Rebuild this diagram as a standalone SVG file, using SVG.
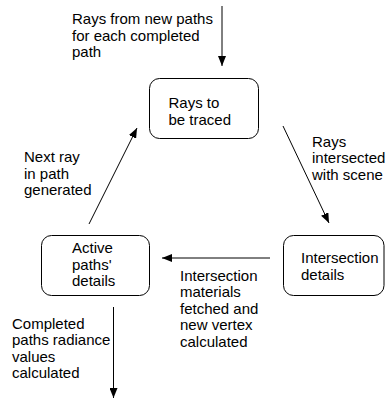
<svg xmlns="http://www.w3.org/2000/svg" width="385" height="400" viewBox="0 0 385 400">
  <style>
    .box { fill: #ffffff; stroke: #000000; stroke-width: 1; }
    .lbl { font-family: "Liberation Sans", Arial, sans-serif; font-size: 15px; fill: #000000; }
    .edge { stroke: #000000; stroke-width: 1; fill: none; marker-end: url(#arrow); }
  </style>
  <defs>
    <marker id="arrow" viewBox="0 0 10 8" refX="10" refY="4" markerWidth="10" markerHeight="8" markerUnits="userSpaceOnUse" orient="auto">
      <path d="M0,0 L10,4 L0,8 Z" fill="#000000"/>
    </marker>
  </defs>
  <rect width="385" height="400" fill="#ffffff"/>

  <g id="connectors">
    <line class="edge" x1="222" y1="6" x2="222" y2="66"/>
    <line class="edge" x1="283" y1="126" x2="329" y2="223"/>
    <line class="edge" x1="270" y1="258" x2="162" y2="258"/>
    <line class="edge" x1="89" y1="224" x2="137" y2="128"/>
    <line class="edge" x1="113.5" y1="307" x2="113.5" y2="398"/>
  </g>

  <g id="edge-labels">
    <text class="lbl" x="72" y="24">Rays from new paths</text>
    <text class="lbl" x="72" y="40.5">for each completed</text>
    <text class="lbl" x="72" y="57">path</text>

    <text class="lbl" x="312" y="146.5">Rays</text>
    <text class="lbl" x="312" y="163">intersected</text>
    <text class="lbl" x="312" y="179.5">with scene</text>

    <text class="lbl" x="24" y="162">Next ray</text>
    <text class="lbl" x="24" y="178.5">in path</text>
    <text class="lbl" x="24" y="195">generated</text>

    <text class="lbl" x="180" y="280.5">Intersection</text>
    <text class="lbl" x="180" y="297">materials</text>
    <text class="lbl" x="180" y="313.5">fetched and</text>
    <text class="lbl" x="180" y="330">new vertex</text>
    <text class="lbl" x="180" y="346.5">calculated</text>

    <text class="lbl" x="12" y="328.5">Completed</text>
    <text class="lbl" x="12" y="345">paths radiance</text>
    <text class="lbl" x="12" y="361.5">values</text>
    <text class="lbl" x="12" y="378">calculated</text>
  </g>

  <g id="rays-to-be-traced">
    <rect class="box" x="149.5" y="78.5" width="109" height="60" rx="10"/>
    <text class="lbl" x="168.5" y="108">Rays to</text>
    <text class="lbl" x="168.5" y="124.5">be traced</text>
  </g>

  <g id="intersection-details">
    <rect class="box" x="283.5" y="235.5" width="100.5" height="60" rx="10"/>
    <text class="lbl" x="301" y="263">Intersection</text>
    <text class="lbl" x="301" y="279.5">details</text>
  </g>

  <g id="active-paths-details">
    <rect class="box" x="41.5" y="235.5" width="108" height="60" rx="10"/>
    <text class="lbl" x="72" y="253">Active</text>
    <text class="lbl" x="72" y="269.5">paths'</text>
    <text class="lbl" x="72" y="286">details</text>
  </g>
</svg>
